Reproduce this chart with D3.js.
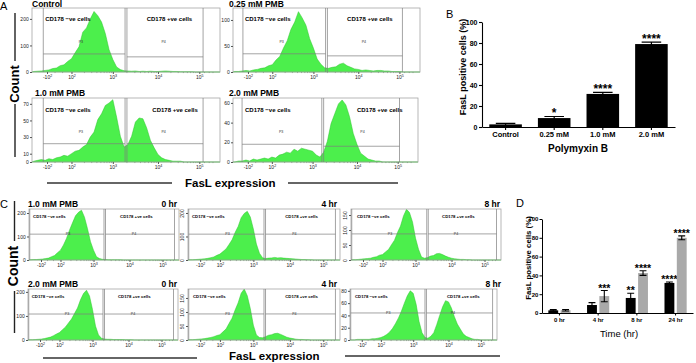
<!DOCTYPE html>
<html>
<head>
<meta charset="utf-8">
<script src="https://cdn.jsdelivr.net/npm/d3@7/dist/d3.min.js"></script>
<style>
  body { margin: 0; background: #fff; }
  svg { display: block; }
  text { font-family: "Liberation Sans", Arial, sans-serif; }
</style>
</head>
<body>
<svg id="figure" width="696" height="363"></svg>
<script>
// ---- Histogram counts: 50 bins of 2 channels each (channel axis 0..100) ----
const histControl = [2,3,4,6,8,13,15,24,27,40,50,73,95,150,166,200,228,212,188,145,84,47,19,9,5,4,3,4,2,3,2,3,2,2,3,4,3,2,2,1,1,1,1,0,0,0,0,0,0,0];
const histPmb025  = [1,1,2,3,2,4,5,7,8,12,14,23,30,46,60,82,96,116,104,90,64,46,25,15,8,7,9,10,15,17,12,9,6,5,3,4,3,2,3,3,2,2,1,1,1,0,0,0,0,0];
const histPmb10   = [1,2,3,2,4,3,5,6,8,7,10,13,14,18,21,30,36,51,58,68,71,75,54,31,18,21,31,48,53,52,41,26,17,9,5,3,2,1,1,1,0,0,0,0,0,0,0,0,0,0];
const histPmb20   = [0,1,1,2,1,3,2,3,4,3,5,4,7,8,10,9,13,11,14,13,12,11,7,5,10,21,39,49,59,63,58,46,29,18,9,6,3,2,1,1,0,0,0,0,0,0,0,0,0,0];
const histPmb10h0 = [1,2,2,3,4,6,8,14,19,31,42,64,92,127,158,188,203,212,182,133,78,42,14,6,3,2,1,1,1,1,1,0,0,0,0,0,0,0,0,0,0,0,0,0,0,0,0,0,0,0];
const histPmb10h4 = [1,1,2,3,4,5,7,10,13,20,25,36,47,66,86,117,143,180,198,207,183,132,68,29,10,6,8,9,11,9,10,8,7,6,5,4,3,2,2,1,1,0,0,0,0,0,0,0,0,0];
const histPmb10h8 = [1,1,2,3,4,5,6,9,11,16,18,27,35,51,66,92,113,147,169,158,127,73,36,10,6,8,13,15,21,22,18,13,9,6,4,3,2,2,1,1,0,0,0,0,0,0,0,0,0,0];
const histPmb20h0 = [1,1,2,3,4,6,9,12,18,25,31,43,54,71,87,110,133,167,193,207,183,127,58,21,7,4,3,3,2,2,2,2,1,1,1,0,0,0,0,0,0,0,0,0,0,0,0,0,0,0];
const histPmb20h4 = [1,1,2,3,4,5,7,9,12,16,19,29,39,59,78,107,133,167,184,158,112,53,18,9,8,12,17,19,23,24,20,15,10,7,5,3,2,2,1,1,0,0,0,0,0,0,0,0,0,0];
const histPmb20h8 = [0,0,1,1,1,1,1,2,2,3,4,6,9,13,19,27,36,47,60,72,80,76,58,30,12,4,3,6,12,25,40,54,64,62,52,38,26,18,10,6,4,2,1,1,0,0,0,0,0,0];

// ---- Log axis ticks (channel positions) ----
const logTickChannels = [8, 21, 43, 67, 89];
const logTickBase = ["-10", "10", "10", "10", "10"];
const logTickExp = ["2", "2", "3", "4", "5"];

// ---- Count axis ticks ----
const countTicksControl = [0, 100, 200];
const countTicks025 = [0, 50, 100];
const countTicks10 = [0, 10, 30, 50, 70];
const countTicks20 = [0, 20, 40, 60];
const countTicks200 = [0, 100, 200];
const countTicks150 = [0, 50, 100, 150];
const countTicks80 = [0, 20, 40, 60, 80];

// ---- Panel B ----
const polyCategories = ["Control", "0.25 mM", "1.0 mM", "2.0 mM"];
const polyMeans = [2.5, 8.5, 31.5, 79];
const polyErrors = [1, 1.5, 1.5, 1.8];
const polyStars = ["", "*", "****", "****"];
const percentTicks = [0, 20, 40, 60, 80, 100];

// ---- Panel D ----
const timeCategories = ["0 hr", "4 hr", "8 hr", "24 hr"];
const time10Means = [2.8, 8.5, 16, 32];
const time10Errors = [0.8, 2.5, 5, 1];
const time10Stars = ["", "", "**", "****"];
const time20Means = [3, 18, 42.5, 80];
const time20Errors = [0.8, 6, 2.5, 2];
const time20Stars = ["", "***", "****", "****"];

const svg = d3.select("#figure");
const FONT = "'Liberation Sans', Arial, sans-serif";

// ---- Histogram panel layout ----
const histLayout = [
    { data: histControl, ticks: countTicksControl, max: 241, x0: 32, x1: 220, yt: 8, yb: 72,
      gates: [[6, 49.5, 68], [50.5, 91, 57]], negX: 7, posX: 61, lab: 6, labDy: 12.5, pOnLine: false,
      title: "Control", titleX: 32, titleY: 7 },
    { data: histPmb025, ticks: countTicks025, max: 123, x0: 233, x1: 420, yt: 8, yb: 72,
      gates: [[5.3, 49.5, 35], [50.5, 90.6, 31]], negX: 6.4, posX: 61, lab: 6, labDy: 12.5, pOnLine: false,
      title: "0.25 mM PMB", titleX: 229, titleY: 7 },
    { data: histPmb10, ticks: countTicks10, max: 77, x0: 32, x1: 220, yt: 98, yb: 162,
      gates: [[6, 49.5, 22], [50.5, 91, 22]], negX: 7, posX: 64, lab: 6, labDy: 13.5, pOnLine: false,
      title: "1.0 mM PMB", titleX: 35, titleY: 96 },
    { data: histPmb20, ticks: countTicks20, max: 65, x0: 233, x1: 418, yt: 98, yb: 162,
      gates: [[4.9, 48, 18], [49, 90, 16]], negX: 6.5, posX: 67, lab: 6, labDy: 13.5, pOnLine: false,
      title: "2.0 mM PMB", titleX: 229, titleY: 96 },

    { data: histPmb10h0, ticks: countTicks200, max: 217, x0: 29, x1: 179, yt: 209, yb: 260,
      gates: [[0.5, 50, 110], [51, 97, 110]], negX: 2.7, posX: 60.7, lab: 4.3, labDy: 9, pOnLine: true,
      title: "1.0 mM PMB", titleX: 28, titleY: 207, time: "0 hr", timeX: 177 },
    { data: histPmb10h4, ticks: countTicks200, max: 217, x0: 188, x1: 340, yt: 209, yb: 260, rotate: true,
      gates: [[0.5, 50, 110], [51, 97, 110]], negX: 2.6, posX: 64, lab: 4.3, labDy: 9, pOnLine: true,
      time: "4 hr", timeX: 337 },
    { data: histPmb10h8, ticks: countTicks150, max: 170, x0: 351, x1: 501, yt: 209, yb: 260, rotate: true,
      gates: [[0.5, 50.5, 87], [51.5, 97, 87]], negX: 4, posX: 60.7, lab: 4.3, labDy: 9, pOnLine: true,
      time: "8 hr", timeX: 500 },
    { data: histPmb20h0, ticks: countTicks200, max: 212, x0: 28, x1: 178, yt: 289, yb: 340,
      gates: [[0.5, 50, 108], [51, 97, 108]], negX: 2.5, posX: 60, lab: 4.3, labDy: 8.5, pOnLine: true,
      title: "2.0 mM PMB", titleX: 28, titleY: 287, time: "0 hr", timeX: 177 },
    { data: histPmb20h4, ticks: countTicks150, max: 182, x0: 188, x1: 340, yt: 289, yb: 340, rotate: true,
      gates: [[0.5, 50, 93], [51, 97, 93]], negX: 3.3, posX: 64, lab: 4.3, labDy: 8.5, pOnLine: true,
      time: "4 hr", timeX: 337 },
    { data: histPmb20h8, ticks: countTicks80, max: 83, x0: 350, x1: 497, yt: 289, yb: 340,
      gates: [[0.5, 51, 44], [52, 97, 44]], negX: 3.4, posX: 66, lab: 4.3, labDy: 8.5, pOnLine: true,
      time: "8 hr", timeX: 501 }
];

function drawHist(p) {
    const x = d3.scaleLinear().domain([0, 100]).range([p.x0, p.x1]);
    const y = d3.scaleLinear().domain([0, p.max]).range([p.yb, p.yt]);
    const g = svg.append("g");

    // histogram (bin centres joined, closed at the baseline)
    const pts = [[0, 0]].concat(p.data.map((d, i) => [i * 2 + 1, d]), [[100, 0]]);
    const area = d3.area()
        .x(d => x(d[0]))
        .y0(y(0))
        .y1(d => y(Math.min(d[1], p.max)))
        .curve(d3.curveLinear);

    g.append("path")
        .datum(pts)
        .attr("d", area)
        .attr("fill", "#4cef4c")
        .attr("stroke", "#2fc52f")
        .attr("stroke-width", 0.5);

    // frame
    g.append("rect")
        .attr("x", p.x0).attr("y", p.yt)
        .attr("width", p.x1 - p.x0).attr("height", p.yb - p.yt)
        .attr("fill", "none")
        .attr("stroke", "#a5a5a5")
        .attr("stroke-width", 0.8);

    // gates
    p.gates.forEach(([a, b, lvl]) => {
        g.append("path")
            .attr("d", `M${x(a)},${p.yt}V${p.yb}M${x(b)},${p.yt}V${p.yb}M${x(a)},${y(lvl)}H${x(b)}`)
            .attr("fill", "none")
            .attr("stroke", "#7c7c7c")
            .attr("stroke-width", 0.7);
    });

    // gate labels
    g.append("text").attr("x", x(p.negX)).attr("y", p.yt + p.labDy)
        .attr("font-size", p.lab).attr("font-weight", "bold").text("CD178 \u2212ve cells");
    g.append("text").attr("x", x(p.posX)).attr("y", p.yt + p.labDy)
        .attr("font-size", p.lab).attr("font-weight", "bold").text("CD178 +ve cells");

    const pY = p.pOnLine ? y(p.gates[0][2]) + 1.3 : p.yt + 35;
    [["P3", 26], ["P4", 70]].forEach(([t, c]) => {
        g.append("text").attr("x", x(c)).attr("y", pY)
            .attr("font-size", 3.6).attr("fill", "#333").attr("text-anchor", "middle").text(t);
    });

    // x axis: major ticks
    const xa = g.append("g")
        .attr("transform", `translate(0,${p.yb})`)
        .call(d3.axisBottom(x).tickValues(logTickChannels).tickSize(2).tickPadding(1.2).tickFormat(""));
    xa.select(".domain").remove();
    xa.attr("font-size", 5).attr("font-family", FONT);
    xa.selectAll(".tick line").attr("stroke", "#555");
    xa.selectAll(".tick text").attr("fill", "#222").each(function (d, i) {
        const t = d3.select(this);
        t.append("tspan").text(logTickBase[i]);
        t.append("tspan").attr("dy", -2).attr("font-size", 3.6).text(logTickExp[i]);
    });

    // x axis: minor ticks
    const minor = [];
    for (let k = 1; k < logTickChannels.length - 1; k++) {
        const a = logTickChannels[k], b = logTickChannels[k + 1];
        for (let m = 2; m <= 9; m++) minor.push(a + (b - a) * Math.log10(m));
    }
    minor.push(12, 16, 91.5, 94, 96);
    g.append("g")
        .attr("transform", `translate(0,${p.yb})`)
        .call(d3.axisBottom(x).tickValues(minor).tickSize(1.1).tickFormat(""))
        .call(a => a.select(".domain").remove())
        .selectAll("line").attr("stroke", "#777").attr("stroke-width", 0.5);

    // y axis
    const ya = g.append("g")
        .attr("transform", `translate(${p.x0},0)`)
        .call(d3.axisLeft(y).tickValues(p.ticks).tickSize(2).tickPadding(1.3));
    ya.select(".domain").remove();
    ya.attr("font-size", 5).attr("font-family", FONT);
    ya.selectAll(".tick line").attr("stroke", "#555");
    ya.selectAll(".tick text").attr("fill", "#222");
    if (p.rotate) {
        ya.selectAll(".tick text")
            .attr("transform", "rotate(-90)")
            .attr("x", 0).attr("y", -3.6).attr("dy", 0)
            .attr("text-anchor", "middle");
    }

    // titles
    if (p.title) {
        g.append("text").attr("x", p.titleX).attr("y", p.titleY)
            .attr("font-size", 8.5).attr("font-weight", "bold").text(p.title);
    }
    if (p.time) {
        g.append("text").attr("x", p.timeX).attr("y", p.titleY || (p.yt - 2))
            .attr("text-anchor", "end").attr("font-size", 8.5).attr("font-weight", "bold").text(p.time);
    }
}

histLayout.forEach(drawHist);

// ---- Panel letters ----
[["A", 0, 10], ["B", 446, 18], ["C", 0, 208], ["D", 516, 207]].forEach(([t, lx, ly]) => {
    svg.append("text").attr("x", lx).attr("y", ly).attr("font-size", 11).text(t);
});

// ---- Shared "Count" and "FasL expression" labels ----
function countLabel(cx, cy, size, lines) {
    svg.append("text")
        .attr("transform", `translate(${cx},${cy}) rotate(-90)`)
        .attr("text-anchor", "middle")
        .attr("font-size", size).attr("font-weight", "bold").text("Count");
    lines.forEach(([a, b]) => {
        svg.append("line").attr("x1", cx - 3.5).attr("x2", cx - 3.5).attr("y1", a).attr("y2", b)
            .attr("stroke", "#222").attr("stroke-width", 1.4);
    });
}
countLabel(18.5, 84, 13, [[13, 61], [104, 157]]);
countLabel(18, 266, 14, [[201, 241], [291, 333]]);

function faslLabel(tx, ty, lines) {
    svg.append("text").attr("x", tx).attr("y", ty)
        .attr("font-size", 11.5).attr("font-weight", "bold").text("FasL expression");
    lines.forEach(([a, b, ly]) => {
        svg.append("line").attr("x1", a).attr("x2", b).attr("y1", ly).attr("y2", ly)
            .attr("stroke", "#333").attr("stroke-width", 1.4);
    });
}
faslLabel(185, 187, [[47, 172, 183], [288, 398, 183]]);
faslLabel(229, 360, [[43, 197, 358], [345, 500, 356]]);

// ---- Panel B: bar chart ----
const bX = d3.scaleBand().domain(polyCategories).range([482, 675]).paddingInner(0.33).paddingOuter(0.15);
const bY = d3.scaleLinear().domain([0, 100]).range([127, 22]);
const gB = svg.append("g");

gB.selectAll("rect.bar")
    .data(polyMeans)
    .join("rect")
    .attr("class", "bar")
    .attr("x", (d, i) => bX(polyCategories[i]))
    .attr("y", d => bY(d))
    .attr("width", bX.bandwidth())
    .attr("height", d => bY(0) - bY(d))
    .attr("fill", "#000");

gB.selectAll("path.err")
    .data(polyMeans)
    .join("path")
    .attr("class", "err")
    .attr("d", (d, i) => {
        const cx = bX(polyCategories[i]) + bX.bandwidth() / 2;
        const w = bX.bandwidth() * 0.3;
        const top = bY(d + polyErrors[i]);
        return `M${cx},${bY(d - polyErrors[i])}V${top}M${cx - w},${top}H${cx + w}`;
    })
    .attr("fill", "none").attr("stroke", "#000").attr("stroke-width", 1.2);

gB.selectAll("text.star")
    .data(polyStars)
    .join("text")
    .attr("class", "star")
    .attr("x", (d, i) => bX(polyCategories[i]) + bX.bandwidth() / 2)
    .attr("y", (d, i) => bY(polyMeans[i] + polyErrors[i]) + 0.5)
    .attr("text-anchor", "middle").attr("font-size", 12).attr("font-weight", "bold")
    .text(d => d);

gB.append("g")
    .attr("transform", "translate(482,0)")
    .call(d3.axisLeft(bY).tickValues(percentTicks).tickSize(3).tickSizeOuter(0).tickPadding(1.5))
    .call(a => a.attr("font-size", 7).attr("font-weight", "bold").attr("font-family", FONT))
    .call(a => a.selectAll("line, path").attr("stroke-width", 1.1));

gB.append("g")
    .attr("transform", "translate(0,127)")
    .call(d3.axisBottom(bX).tickSize(3).tickSizeOuter(0).tickPadding(2))
    .call(a => a.attr("font-size", 7.5).attr("font-weight", "bold").attr("font-family", FONT))
    .call(a => a.selectAll("line, path").attr("stroke-width", 1.1));

gB.append("text").attr("x", 578).attr("y", 152).attr("text-anchor", "middle")
    .attr("font-size", 10).attr("font-weight", "bold").text("Polymyxin B");
gB.append("text").attr("transform", "translate(466,67) rotate(-90)").attr("text-anchor", "middle")
    .attr("font-size", 9).attr("font-weight", "bold").text("FasL positive cells (%)");

// ---- Panel D: grouped bar chart ----
const dX = d3.scaleBand().domain(timeCategories).range([542, 693]).paddingInner(0.3).paddingOuter(0.1);
const dSub = d3.scaleBand().domain(["1.0 mM", "2.0 mM"]).range([0, dX.bandwidth()]).padding(0.2);
const dY = d3.scaleLinear().domain([0, 100]).range([313, 219]);
const gD = svg.append("g");

const dSeries = [
    { key: "1.0 mM", means: time10Means, errors: time10Errors, stars: time10Stars, fill: "#000" },
    { key: "2.0 mM", means: time20Means, errors: time20Errors, stars: time20Stars, fill: "#a9a9a9" }
];

dSeries.forEach(s => {
    const cx = i => dX(timeCategories[i]) + dSub(s.key) + dSub.bandwidth() / 2;

    gD.selectAll(null)
        .data(s.means)
        .join("rect")
        .attr("x", (d, i) => dX(timeCategories[i]) + dSub(s.key))
        .attr("y", d => dY(d))
        .attr("width", dSub.bandwidth())
        .attr("height", d => dY(0) - dY(d))
        .attr("fill", s.fill);

    gD.selectAll(null)
        .data(s.means)
        .join("path")
        .attr("d", (d, i) => {
            const w = dSub.bandwidth() * 0.35;
            const top = dY(d + s.errors[i]);
            const bot = dY(d - s.errors[i]);
            return `M${cx(i)},${bot}V${top}M${cx(i) - w},${top}H${cx(i) + w}M${cx(i) - w},${bot}H${cx(i) + w}`;
        })
        .attr("fill", "none").attr("stroke", "#000").attr("stroke-width", 1.1);

    gD.selectAll(null)
        .data(s.stars)
        .join("text")
        .attr("x", (d, i) => cx(i))
        .attr("y", (d, i) => dY(s.means[i] + s.errors[i]) + 1.2)
        .attr("text-anchor", "middle").attr("font-size", 10.5).attr("font-weight", "bold")
        .text(d => d);
});

gD.append("g")
    .attr("transform", "translate(542,0)")
    .call(d3.axisLeft(dY).tickValues(percentTicks).tickSize(2.5).tickSizeOuter(0).tickPadding(1.2))
    .call(a => a.attr("font-size", 6).attr("font-weight", "bold").attr("font-family", FONT))
    .call(a => a.selectAll("line, path").attr("stroke-width", 1));

gD.append("g")
    .attr("transform", "translate(0,313)")
    .call(d3.axisBottom(dX).tickSize(2.5).tickSizeOuter(0).tickPadding(2))
    .call(a => a.attr("font-size", 6).attr("font-weight", "bold").attr("font-family", FONT))
    .call(a => a.selectAll("line, path").attr("stroke-width", 1));

gD.append("text").attr("x", 619).attr("y", 337).attr("text-anchor", "middle")
    .attr("font-size", 9.5).text("Time (hr)");
gD.append("text").attr("transform", "translate(531,258) rotate(-90)").attr("text-anchor", "middle")
    .attr("font-size", 7.8).attr("font-weight", "bold").text("FasL positive cells (%)");
</script>
</body>
</html>
